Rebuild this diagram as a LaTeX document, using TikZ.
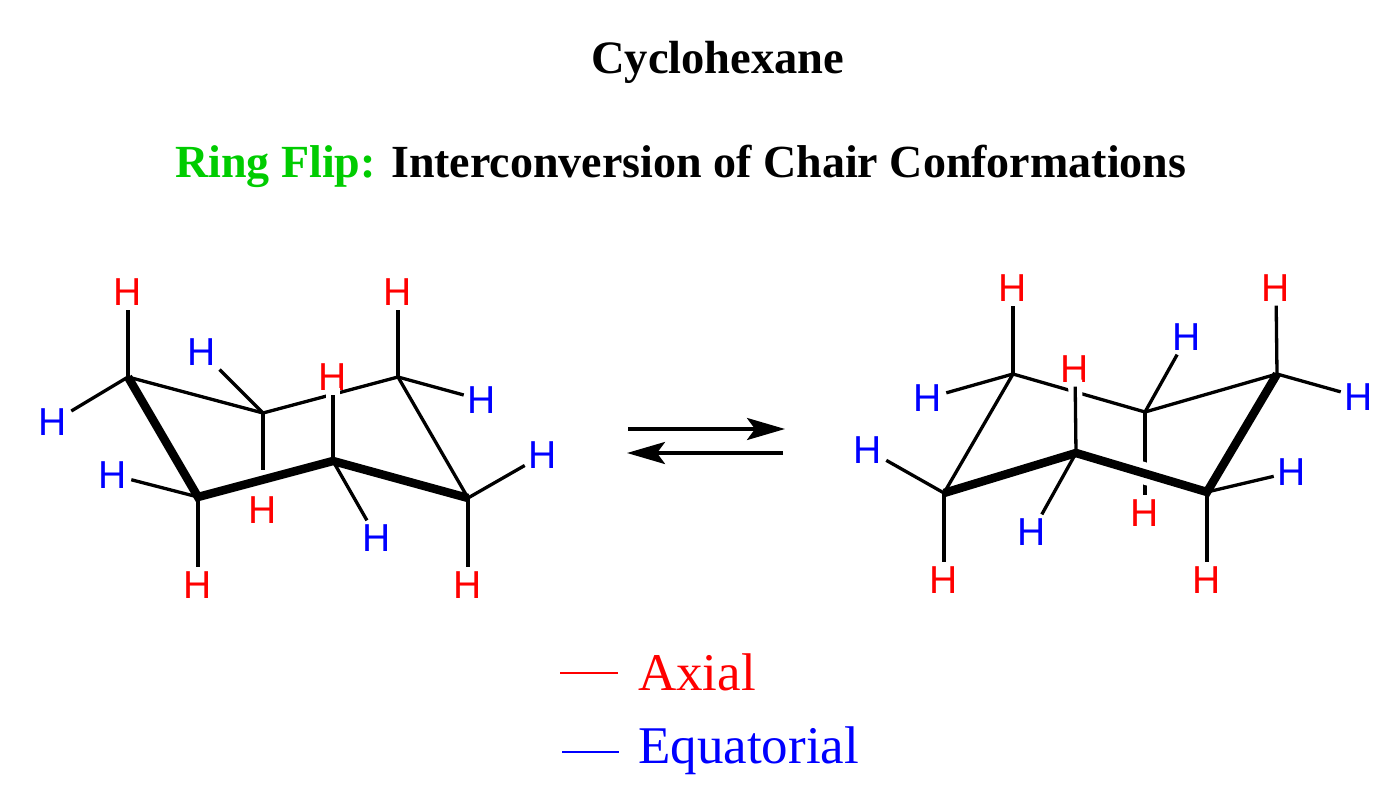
\documentclass[tikz,border=0pt]{standalone}
\usepackage{fontspec}
\setmainfont{Liberation Serif}
\newfontfamily\hfont{Liberation Sans}
\usetikzlibrary{arrows.meta}
\definecolor{axred}{RGB}{255,0,0}
\definecolor{eqblue}{RGB}{0,0,255}
\definecolor{flipgreen}{RGB}{0,204,0}
\begin{document}
\begin{tikzpicture}[x=1pt,y=-1pt,
  hax/.style={text=axred, font=\hfont\fontsize{39}{39}\selectfont, inner sep=4pt},
  heq/.style={hax, text=eqblue},
  thinbond/.style={line width=3.3pt},
  boldbond/.style={line width=8.5pt, line join=miter},
  haloed/.style={preaction={draw=white, line width=14pt, line cap=rect}},
  eqarrow/.style={line width=3.5pt, -{Stealth[length=38pt,width=22pt,inset=8pt]}},
  titlefont/.style={font=\bfseries\fontsize{46.5}{50}\selectfont},
  subfont/.style={font=\bfseries\fontsize{46}{50}\selectfont},
  legfont/.style={font=\fontsize{53}{56}\selectfont},
  legline/.style={line width=2.2pt}
]
\useasboundingbox (0,0) rectangle (1382,795);

% ---------- titles ----------
\node[titlefont, anchor=base west, inner sep=0] (title) at (591,73) {Cyclohexane};
\node[subfont, anchor=base west, inner sep=0] (subtitle) at (175,177)
  {\textcolor{flipgreen}{Ring Flip:} Interconversion of Chair Conformations};

% ---------- left chair ----------
\coordinate (C1) at (128,377);
\coordinate (C2) at (198,497);
\coordinate (C3) at (468,498);
\coordinate (C4) at (333,461);
\coordinate (C5) at (398,377);
\coordinate (C6) at (263,413);
\coordinate (e6a) at (263,470);

\node[hax] (h1a) at (128,292) {H};
\node[heq] (h1e) at (53,422) {H};
\node[hax] (h2a) at (198,585) {H};
\node[heq] (h2e) at (113,475) {H};
\node[heq] (h6e) at (202,352) {H};
\node[hax] (h6a) at (263,510) {H};
\node[hax] (h5a) at (398,292) {H};
\node[heq] (h5e) at (482,400) {H};
\node[hax] (h4a) at (333,377) {H};
\node[heq] (h4e) at (377,538) {H};
\node[heq] (h3e) at (543,455) {H};
\node[hax] (h3a) at (468,585) {H};

\draw[thinbond] (C1) -- (C6) -- (C5);
\draw[thinbond, haloed] (C4) -- (h4a);
\draw[boldbond] (C1) -- (C2) -- (C4) -- (C3);
\draw[thinbond] (C3) -- (C5);
\draw[thinbond] (C1) -- (h1a);
\draw[thinbond] (C1) -- (h1e);
\draw[thinbond] (C2) -- (h2a);
\draw[thinbond] (C2) -- (h2e);
\draw[thinbond] (C6) -- (h6e);
\draw[thinbond] (C6) -- (e6a);
\draw[thinbond] (C5) -- (h5a);
\draw[thinbond] (C5) -- (h5e);
\draw[thinbond] (C4) -- (h4e);
\draw[thinbond] (C3) -- (h3e);
\draw[thinbond] (C3) -- (h3a);

% ---------- equilibrium arrows ----------
\coordinate (a1) at (628,429);
\coordinate (a2) at (785,429);
\coordinate (b1) at (783,453);
\coordinate (b2) at (627,453);
\draw[eqarrow] (a1) -- (a2);
\draw[eqarrow] (b1) -- (b2);

% ---------- right chair ----------
\coordinate (D1) at (1013,374);
\coordinate (D2) at (944,493);
\coordinate (D3) at (1076,453);
\coordinate (D4) at (1207,492);
\coordinate (D5) at (1277,374);
\coordinate (D6) at (1145,412);

\node[hax] (k1a) at (1013,288) {H};
\node[heq] (k1e) at (928,398) {H};
\node[heq] (k2e) at (868,450) {H};
\node[hax] (k2a) at (944,580) {H};
\node[hax] (k3a) at (1075,369) {H};
\node[heq] (k3e) at (1032,532) {H};
\node[heq] (k6e) at (1187,337) {H};
\node[hax] (k6a) at (1145,513) {H};
\node[hax] (k5a) at (1276,288) {H};
\node[heq] (k5e) at (1359,397) {H};
\node[heq] (k4e) at (1292,472) {H};
\node[hax] (k4a) at (1207,580) {H};

\draw[thinbond] (D1) -- (D6) -- (D5);
\draw[thinbond] (D6) -- (k6a);
\draw[white, line width=22pt] (D3) -- (D4);
\draw[thinbond, haloed] (D3) -- (k3a);
\draw[thinbond] (D1) -- (D2);
\draw[boldbond] (D2) -- (D3) -- (D4) -- (D5);
\draw[thinbond] (D1) -- (k1a);
\draw[thinbond] (D1) -- (k1e);
\draw[thinbond] (D2) -- (k2e);
\draw[thinbond] (D2) -- (k2a);
\draw[thinbond] (D3) -- (k3e);
\draw[thinbond] (D6) -- (k6e);
\draw[thinbond] (D5) -- (k5a);
\draw[thinbond] (D5) -- (k5e);
\draw[thinbond] (D4) -- (k4e);
\draw[thinbond] (D4) -- (k4a);

% ---------- legend ----------
\coordinate (la1) at (560,673);
\coordinate (la2) at (618,673);
\coordinate (le1) at (562,752);
\coordinate (le2) at (619,752);
\draw[legline, axred] (la1) -- (la2);
\draw[legline, eqblue] (le1) -- (le2);
\node[legfont, text=axred, anchor=base west, inner sep=0] (axial) at (638,690) {Axial};
\node[legfont, text=eqblue, anchor=base west, inner sep=0] (equat) at (638,763) {Equatorial};
\end{tikzpicture}
\end{document}
